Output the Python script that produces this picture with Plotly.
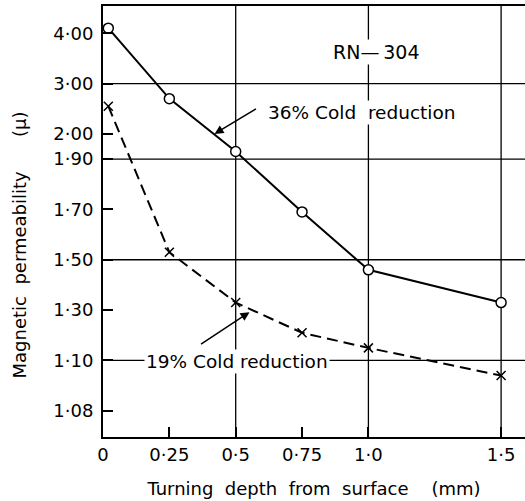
import numpy as np
import plotly.graph_objects as go

# ---- data ----
depth_mm = [0.02, 0.25, 0.5, 0.75, 1.0, 1.5]
mu_36 = [4.10, 2.70, 1.93, 1.69, 1.46, 1.33]
mu_19 = [2.55, 1.53, 1.33, 1.21, 1.15, 1.094]

x_tick_vals = [0, 0.25, 0.5, 0.75, 1.0, 1.5]
x_tick_text = ["0", "0·25", "0·5", "0·75", "1·0", "1·5"]

# non-uniform permeability scale of the original chart: tick value -> axis slot
y_tick_mu = [1.08, 1.10, 1.30, 1.50, 1.70, 1.90, 2.00, 3.00, 4.00]
y_tick_text = ["1·08", "1·10", "1·30", "1·50", "1·70", "1·90", "2·00", "3·00", "4·00"]
scale_mu = [1.08, 1.10, 1.30, 1.50, 1.70, 1.90, 2.00, 3.00, 4.00, 5.00]
scale_slot = [0, 1, 2, 3, 4, 5, 5.5, 6.5, 7.5, 8.5]

grid_x = [0.5, 1.0, 1.5]
grid_y_mu = [3.00, 1.90, 1.50, 1.10]


def to_axis(mu):
    return np.interp(mu, scale_mu, scale_slot)


FONT = "DejaVu Sans"
fig = go.Figure()

fig.add_trace(go.Scatter(
    x=depth_mm, y=to_axis(mu_36), mode="lines+markers",
    line=dict(color="black", width=2),
    marker=dict(symbol="circle", size=10, color="white",
                line=dict(color="black", width=1.5)),
    showlegend=False))
fig.add_trace(go.Scatter(
    x=depth_mm, y=to_axis(mu_19), mode="lines+markers",
    line=dict(color="black", width=2, dash="11px,6px"),
    marker=dict(symbol="x-thin-open", size=9,
                line=dict(color="black", width=1.5)),
    showlegend=False))

shapes = []
for gx in grid_x:
    shapes.append(dict(type="line", xref="x", yref="paper", x0=gx, x1=gx,
                       y0=0, y1=1, line=dict(color="black", width=1.3),
                       layer="below"))
for gy in grid_y_mu:
    v = float(to_axis(gy))
    shapes.append(dict(type="line", xref="paper", yref="y", x0=0, x1=1,
                       y0=v, y1=v, line=dict(color="black", width=1.3),
                       layer="below"))

annotations = [
    dict(x=1.03, y=7.12, xref="x", yref="y", text="RN\u2014\u2009304",
         showarrow=False, bgcolor="white", font=dict(size=19, family=FONT)),
    dict(x=0.975, y=5.93, xref="x", yref="y", text="36% Cold  reduction",
         showarrow=False, bgcolor="white", font=dict(size=18.5, family=FONT)),
    dict(x=0.42, y=5.50, xref="x", yref="y", text="", showarrow=True,
         ax=43, ay=-26, arrowhead=2, arrowsize=1.2, arrowwidth=1.5,
         arrowcolor="black"),
    dict(x=0.503, y=0.97, xref="x", yref="y", text="19% Cold reduction",
         showarrow=False, bgcolor="white", font=dict(size=18.5, family=FONT)),
    dict(x=0.552, y=1.96, xref="x", yref="y", text="", showarrow=True,
         ax=-50, ay=33, arrowhead=2, arrowsize=1.2, arrowwidth=1.5,
         arrowcolor="black"),
    dict(x=-0.228, y=0.445, xref="paper", yref="paper",
         text="Magnetic  permeability\u00a0\u00a0\u00a0\u00a0\u00a0\u00a0(μ)",
         textangle=-90, showarrow=False, font=dict(size=18, family=FONT)),
]

fig.update_layout(
    width=525, height=501,
    margin=dict(l=103, r=0, t=6, b=64, autoexpand=False),
    paper_bgcolor="white", plot_bgcolor="white",
    font=dict(family=FONT, color="black", size=16),
    shapes=shapes, annotations=annotations,
    xaxis=dict(range=[0, 1.59], tickvals=x_tick_vals, ticktext=x_tick_text,
               ticks="inside", ticklen=10, tickwidth=1.5, tickcolor="black",
               showgrid=False, zeroline=False, showline=True, linewidth=2,
               linecolor="black", mirror=True, automargin=False,
               tickfont=dict(size=18, family=FONT),
               title=dict(text="Turning  depth  from  surface\u00a0\u00a0\u00a0\u00a0(mm)",
                          font=dict(size=18, family=FONT), standoff=19)),
    yaxis=dict(range=[-0.52, 8.04], tickvals=list(to_axis(y_tick_mu)),
               ticktext=y_tick_text, ticks="inside", ticklen=10,
               tickwidth=1.5, tickcolor="black", showgrid=False,
               zeroline=False, showline=True, linewidth=2, linecolor="black",
               ticklabelstandoff=4,
               automargin=False, tickfont=dict(size=18, family=FONT)),
)

fig.write_html("out.html", config={"displayModeBar": False},
               post_script="document.body.style.margin='0';document.body.style.overflow='hidden';")
